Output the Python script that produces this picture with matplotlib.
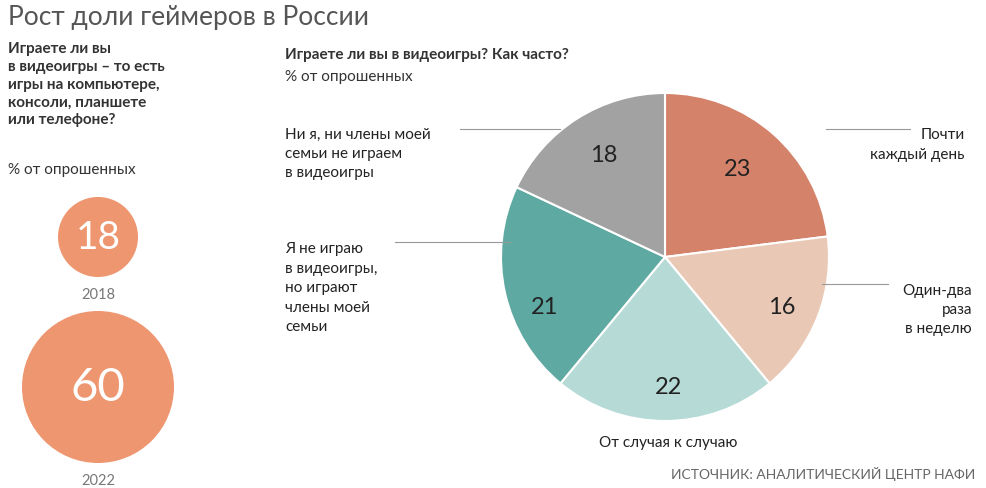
import matplotlib
matplotlib.use("Agg")
import matplotlib.pyplot as plt
from matplotlib.patches import Circle

plt.rcParams["font.family"] = "Lato"

years = ["2018", "2022"]
gamer_share = [18, 60]
pie_labels = ["Почти\nкаждый день", "Один-два\nраза\nв неделю", "От случая к случаю",
              "Я не играю\nв видеоигры,\nно играют\nчлены моей\nсемьи",
              "Ни я, ни члены моей\nсемьи не играем\nв видеоигры"]
pie_values = [23, 16, 22, 21, 18]
pie_colors = ["#D4826A", "#E9C9B6", "#B6DAD6", "#5EA9A1", "#A2A2A2"]

fig = plt.figure(figsize=(9.87, 4.89), dpi=100)
ax = fig.add_axes([0, 0, 1, 1])
ax.set_xlim(0, 987); ax.set_ylim(489, 0); ax.set_aspect("equal"); ax.axis("off")

ax.text(8, 18, "Рост доли геймеров в России", fontsize=19, color="#555555", va="center")
ax.text(8, 42, "Играете ли вы\nв видеоигры – то есть\nигры на компьютере,\nконсоли, планшете\nили телефоне?",
        fontsize=11, fontweight="bold", color="#333333", va="top", linespacing=1.35)
ax.text(8, 163, "% от опрошенных", fontsize=11, color="#333333", va="top")

circ = [(98, 238, 40), (98, 388, 76)]
for (cx, cy, r), v, y in zip(circ, gamer_share, years):
    ax.add_patch(Circle((cx, cy), r, color="#EE9670", lw=0))
    ax.text(cx, cy, str(v), fontsize=28 if v < 50 else 34, color="white", ha="center", va="center")
    ax.text(cx, cy + r + 17, y, fontsize=10.5, color="#777777", ha="center", va="center")

ax.text(285, 55, "Играете ли вы в видеоигры? Как часто?", fontsize=11, fontweight="bold", color="#333333", va="center")
ax.text(285, 77, "% от опрошенных", fontsize=11, color="#333333", va="center")

wedges, texts = ax.pie(pie_values, colors=pie_colors, startangle=90, counterclock=False,
                       center=(665, 258), radius=164, frame=True,
                       wedgeprops=dict(edgecolor="white", linewidth=1.5))
ax.set_xlim(0, 987); ax.set_ylim(489, 0); ax.axis("off")
# flipped y: reflect wedges so clockwise order is preserved visually
import numpy as np
from matplotlib.transforms import Affine2D
flip = Affine2D().translate(-665, -258).scale(1, -1).translate(665, 258)
for w in wedges:
    w.set_transform(flip + ax.transData)

num_pos = [(738, 170), (782, 308), (668, 387), (545, 308), (604, 155)]
for (x, y), v in zip(num_pos, pie_values):
    ax.text(x, y, str(v), fontsize=17, color="#222222", ha="center", va="center")

lc = "#999999"
ax.plot([826, 910], [130, 130], color=lc, lw=0.8)
ax.text(965, 145, pie_labels[0], fontsize=11, ha="right", va="center", color="#222222", linespacing=1.5)
ax.plot([822, 888], [285, 285], color=lc, lw=0.8)
ax.text(972, 310, pie_labels[1], fontsize=11, ha="right", va="center", color="#222222", linespacing=1.5)
ax.text(668, 443, pie_labels[2], fontsize=11, ha="center", va="center", color="#222222")
ax.plot([395, 510], [243, 243], color=lc, lw=0.8)
ax.text(285, 288, pie_labels[3], fontsize=11, ha="left", va="center", color="#222222", linespacing=1.5)
ax.plot([460, 560], [130, 130], color=lc, lw=0.8)
ax.text(285, 154, pie_labels[4], fontsize=11, ha="left", va="center", color="#222222", linespacing=1.5)

ax.text(975, 474, "ИСТОЧНИК: АНАЛИТИЧЕСКИЙ ЦЕНТР НАФИ", fontsize=10, color="#666666", ha="right", va="center")

fig.savefig("out.png", dpi=100)
